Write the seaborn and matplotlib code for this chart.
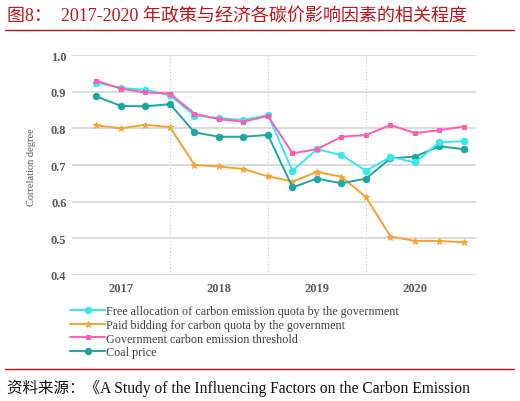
import numpy as np
import pandas as pd
import matplotlib
matplotlib.use("Agg")
import matplotlib.pyplot as plt
from matplotlib.lines import Line2D
import seaborn as sns

# ---- data ----
quarters = list(range(1, 17))
year_labels = ["2017", "2018", "2019", "2020"]
year_pos = [2, 6, 10, 14]
free_alloc = [0.925, 0.910, 0.905, 0.890, 0.835, 0.828, 0.823, 0.836,
              0.684, 0.743, 0.727, 0.684, 0.722, 0.707, 0.762, 0.765]
paid_bid = [0.808, 0.800, 0.810, 0.803, 0.700, 0.696, 0.689, 0.669,
            0.655, 0.681, 0.668, 0.612, 0.505, 0.493, 0.493, 0.489]
threshold = [0.930, 0.908, 0.898, 0.895, 0.840, 0.825, 0.818, 0.834,
             0.732, 0.743, 0.777, 0.782, 0.809, 0.787, 0.795, 0.805]
coal = [0.887, 0.861, 0.860, 0.866, 0.789, 0.777, 0.777, 0.782,
        0.639, 0.663, 0.650, 0.663, 0.718, 0.723, 0.751, 0.743]
series_names = ["Free allocation of carbon emission quota by the government",
                "Paid bidding for carbon quota by the government",
                "Government carbon emission threshold",
                "Coal price"]
y_ticks = [0.4, 0.5, 0.6, 0.7, 0.8, 0.9, 1.0]

sns.set_style("white")
plt.rcParams['font.family'] = ['Liberation Serif', 'Noto Sans CJK SC', 'DejaVu Sans']

W, H = 520, 402
fig = plt.figure(figsize=(W / 100, H / 100), dpi=100)
ax = fig.add_axes([72 / W, 1 - 276 / H, (476 - 72) / W, 220 / H])

styles = [
    (free_alloc, series_names[0], "#35E8F0", "o", 4.6, 3),
    (paid_bid, series_names[1], "#FAA02C", "*", 5.0, 2),
    (threshold, series_names[2], "#FF5CB2", "s", 3.4, 4),
    (coal, series_names[3], "#1BA8A0", "o", 4.6, 2.5),
]
for vals, name, col, mk, ms, z in styles:
    df = pd.DataFrame({"q": quarters, "v": vals})
    sns.lineplot(data=df, x="q", y="v", ax=ax, color=col, marker=mk,
                 markersize=ms, markeredgecolor=col, linewidth=1.4,
                 label=name, zorder=z)

ax.set_xlim(0, 16.49)
ax.set_ylim(0.4, 1.0)
ax.set_yticks(y_ticks)
ax.set_yticklabels([f"{t:.1f}" for t in y_ticks])
ax.set_xticks(year_pos)
ax.set_xticklabels(year_labels)
ax.yaxis.grid(True, color="#d9d9d9", linewidth=1.3, zorder=0)
ax.xaxis.grid(False)
for xv in [4, 8, 12]:
    ax.axvline(xv, color="#cfcfcf", linestyle=":", linewidth=0.9, zorder=0)
for s in ax.spines.values():
    s.set_visible(False)
ax.tick_params(axis="both", length=0, labelsize=9, labelcolor="#595959")
ax.tick_params(axis="y", pad=4)
ax.tick_params(axis="x", pad=5)
for lab in ax.get_xticklabels() + ax.get_yticklabels():
    lab.set_fontweight("bold")
ax.set_xlabel("")
ax.set_ylabel("")

fig.text(32 / W, 1 - 167 / H, "Correlation degree", rotation=90,
         ha="center", va="center", fontsize=7.5, color="#595959")

handles, labels = ax.get_legend_handles_labels()
ax.get_legend().remove()
fig.legend(handles, labels, loc="upper left",
           bbox_to_anchor=(70 / W, 1 - 306 / H), frameon=False,
           fontsize=8.7, labelcolor="#404040", handlelength=2.9,
           handletextpad=0.1, labelspacing=0.15, borderpad=0, borderaxespad=0)

red = "#C0141B"
fig.text(7 / W, 1 - 16 / H, "图8：  2017-2020 年政策与经济各碳价影响因素的相关程度",
         ha="left", va="center", fontsize=13, color=red)
fig.add_artist(Line2D([5 / W, 514 / W], [1 - 31 / H] * 2, color=red, linewidth=1.0))
fig.add_artist(Line2D([5 / W, 514 / W], [1 - 370 / H] * 2, color=red, linewidth=1.0))
fig.text(7 / W, 1 - 388 / H,
         "资料来源：《A Study of the Influencing Factors on the Carbon Emission",
         ha="left", va="center", fontsize=11.2, color="#111111")

fig.savefig("out.png", dpi=100)
